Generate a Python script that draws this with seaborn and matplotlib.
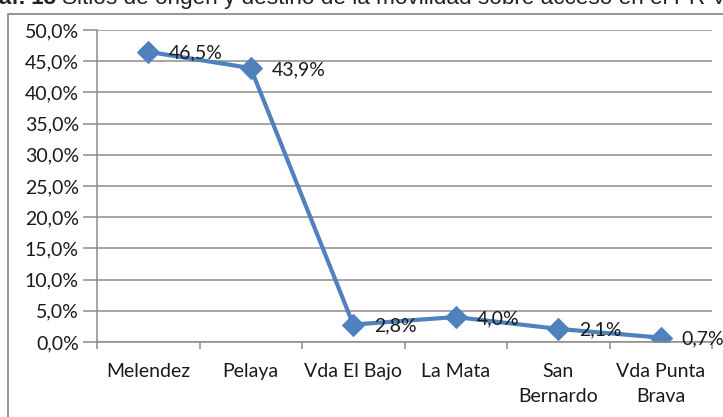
import matplotlib
matplotlib.use("Agg")
import matplotlib.pyplot as plt
import seaborn as sns
import pandas as pd
from matplotlib.patches import Rectangle
from matplotlib.ticker import FuncFormatter, MultipleLocator

# Sites of origin and destination
sitios = ["Melendez", "Pelaya", "Vda El Bajo", "La Mata", "San\nBernardo", "Vda Punta\nBrava"]
porcentajes = [46.5, 43.9, 2.8, 4.0, 2.1, 0.7]
etiquetas = ["46,5%", "43,9%", "2,8%", "4,0%", "2,1%", "0,7%"]

df = pd.DataFrame({"sitio": sitios, "pct": porcentajes, "pos": range(len(sitios))})

sns.set_theme(style="white")
plt.rcParams["font.family"] = ["Lato", "DejaVu Sans"]

W, H = 723, 417
FS = 14
TXT = "#1a1a1a"
fig = plt.figure(figsize=(W / 100, H / 100), dpi=100)

# Outer frame of the chart object (runs past the right and bottom edges)
fig.patches.append(Rectangle((8 / W, -0.1), 1.2, (H - 14) / H + 0.1, transform=fig.transFigure,
                             fill=False, edgecolor="#8c8c8c", linewidth=1.3))

# Caption, cut at the top of the image
fig.text(56 / W, 1 - 4 / H, "Gráf. 13", fontsize=16, fontweight="bold",
         family="Liberation Sans", va="baseline", ha="right", color="#222222")
fig.text(62 / W, 1 - 4 / H,
         "Sitios de origen y destino de la movilidad sobre acceso en el PR V",
         fontsize=16.2, family="Liberation Sans", va="baseline", ha="left", color="#222222")

ax = fig.add_axes([97 / W, (H - 342) / H, (712 - 97) / W, (342 - 30) / H])

sns.lineplot(data=df, x="pos", y="pct", ax=ax, color="#4F81BD", linewidth=3,
             marker="D", markersize=11, markeredgecolor="#4F81BD", sort=False)

for x, y, t in zip(df["pos"], df["pct"], etiquetas):
    ax.annotate(t, (x, y), xytext=(15, -1), textcoords="offset points",
                ha="left", va="center", fontsize=FS, color=TXT, zorder=5)

ax.set_xlim(-0.5, len(sitios) - 0.5)
ax.set_ylim(0, 50)
ax.yaxis.set_major_locator(MultipleLocator(5))
ax.yaxis.set_major_formatter(FuncFormatter(lambda v, p: f"{v:.1f}%".replace(".", ",")))
ax.set_xticks(range(len(sitios)))
ax.set_xticklabels(sitios, linespacing=1.6, va="top")
ax.set_xticks([i - 0.5 for i in range(len(sitios) + 1)], minor=True)
ax.set_xlabel("")
ax.set_ylabel("")

ax.grid(axis="y", color="#8c8c8c", linewidth=1.1)
ax.set_axisbelow(True)
for side in ["top", "right"]:
    ax.spines[side].set_visible(False)
ax.spines["left"].set_color("#8c8c8c")
ax.spines["bottom"].set_color("#8c8c8c")
ax.spines["left"].set_linewidth(1.1)
ax.spines["bottom"].set_linewidth(1.1)

ax.tick_params(axis="y", which="major", left=True, length=10, width=1.1, color="#8c8c8c",
               labelsize=FS, labelcolor=TXT, pad=3)
ax.tick_params(axis="x", which="major", bottom=False, labelsize=FS, labelcolor=TXT, pad=9)
ax.tick_params(axis="x", which="minor", bottom=True, length=5, width=1.1, color="#8c8c8c")

fig.savefig("out.png", dpi=100)
